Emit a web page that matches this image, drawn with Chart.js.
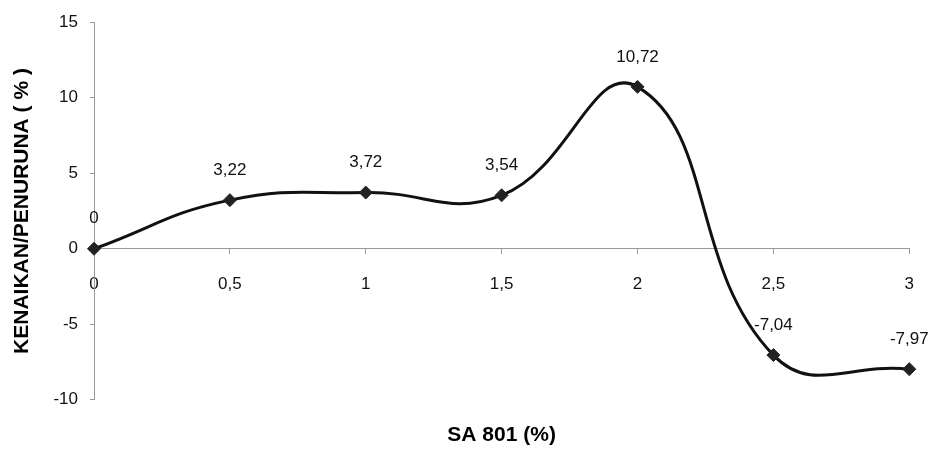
<!DOCTYPE html>
<html>
<head>
<meta charset="utf-8">
<script src="https://cdn.jsdelivr.net/npm/chart.js@4.4.1/dist/chart.umd.min.js"></script>
<style>
  html, body { margin: 0; padding: 0; background: #fff; }
  #wrap { width: 934px; height: 449px; }
</style>
</head>
<body>
<div id="wrap"><canvas id="chart" width="934" height="449"></canvas></div>
<script>
const categories = ["0", "0,5", "1", "1,5", "2", "2,5", "3"];
const values = [0, 3.22, 3.72, 3.54, 10.72, -7.04, -7.97];
const yTicks = [-10, -5, 0, 5, 10, 15];

const fmt = (v) => String(v).replace(".", ",");
const FONT = "'Liberation Sans', Arial, sans-serif";

// simple data labels drawn above each point
const pointLabels = {
  id: "pointLabels",
  afterDatasetsDraw(chart) {
    const ctx = chart.ctx;
    const meta = chart.getDatasetMeta(0);
    ctx.save();
    ctx.font = "17px " + FONT;
    ctx.fillStyle = "#111";
    ctx.textAlign = "center";
    ctx.textBaseline = "middle";
    meta.data.forEach((pt, i) => {
      ctx.fillText(fmt(values[i]), pt.x, pt.y - 30);
    });
    ctx.restore();
  }
};

const axisColor = "#9a9a9a";

new Chart(document.getElementById("chart").getContext("2d"), {
  type: "line",
  data: {
    labels: categories,
    datasets: [{
      data: values,
      borderColor: "#111",
      borderWidth: 3,
      tension: 0.45,
      fill: false,
      pointStyle: "rectRot",
      pointRadius: 6.5,
      pointBackgroundColor: "#222",
      pointBorderColor: "#222",
      pointBorderWidth: 1
    }]
  },
  options: {
    responsive: false,
    animation: false,
    layout: { padding: { top: 22, right: 24, bottom: 0, left: 0 } },
    plugins: {
      legend: { display: false },
      tooltip: { enabled: false },
      title: {
        display: true,
        position: "bottom",
        fullSize: false,
        text: "SA 801 (%)",
        color: "#000",
        font: { family: FONT, size: 21, weight: "bold" },
        padding: { top: 23, bottom: 1 }
      }
    },
    scales: {
      x: {
        type: "category",
        offset: false,
        position: { y: 0 },
        afterFit(scale) { scale.height = 0; },
        grid: {
          drawOnChartArea: false,
          color: axisColor,
          tickLength: 5
        },
        border: { display: true, color: axisColor, dash: [3, 3], width: 1 },
        ticks: {
          color: "#111",
          padding: 20,
          maxRotation: 0,
          font: { family: FONT, size: 17 }
        }
      },
      y: {
        min: -10,
        max: 15,
        afterFit(scale) { scale.width = 94; },
        afterBuildTicks(scale) { scale.ticks = yTicks.map(v => ({ value: v })); },
        grid: {
          drawOnChartArea: false,
          color: axisColor,
          tickLength: 4
        },
        border: { display: true, color: axisColor, dash: [3, 3], width: 1 },
        ticks: {
          color: "#111",
          padding: 12,
          font: { family: FONT, size: 17 },
          callback: (v) => fmt(v)
        },
        title: {
          display: true,
          text: "KENAIKAN/PENURUNA ( % )",
          color: "#000",
          font: { family: FONT, size: 21, weight: "bold" },
          padding: { top: 10, bottom: 0 }
        }
      }
    }
  },
  plugins: [pointLabels]
});
</script>
</body>
</html>
